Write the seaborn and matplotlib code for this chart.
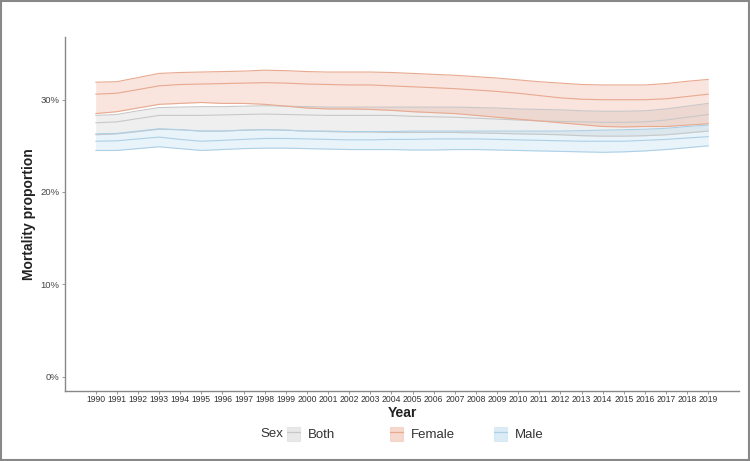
import numpy as np
import pandas as pd
import matplotlib
matplotlib.use("Agg")
import matplotlib.pyplot as plt
import seaborn as sns
from matplotlib.patches import Patch, Rectangle
from matplotlib.lines import Line2D
from matplotlib.legend_handler import HandlerTuple
from matplotlib.ticker import PercentFormatter

years = list(range(1990, 2020))
sexes = ["Both", "Female", "Male"]

female_upper = [31.9, 31.95, 32.4, 32.85, 32.95, 33.0, 33.05, 33.1, 33.2, 33.15, 33.05, 33.0, 33.0, 33.0, 32.95,
                32.85, 32.75, 32.65, 32.5, 32.35, 32.15, 31.95, 31.8, 31.65, 31.6, 31.6, 31.6, 31.75, 32.0, 32.2]
female_mid = [30.6, 30.7, 31.1, 31.5, 31.65, 31.7, 31.75, 31.8, 31.85, 31.8, 31.7, 31.65, 31.6, 31.6, 31.5,
              31.4, 31.3, 31.2, 31.05, 30.9, 30.7, 30.45, 30.2, 30.05, 30.0, 30.0, 30.0, 30.1, 30.35, 30.6]
female_lower = [28.5, 28.7, 29.1, 29.5, 29.6, 29.7, 29.6, 29.6, 29.5, 29.3, 29.1, 29.0, 29.0, 28.95, 28.85,
                28.7, 28.6, 28.5, 28.3, 28.1, 27.9, 27.7, 27.5, 27.3, 27.1, 27.05, 27.1, 27.1, 27.25, 27.4]
both_upper = [28.3, 28.4, 28.8, 29.15, 29.2, 29.25, 29.25, 29.3, 29.35, 29.3, 29.25, 29.2, 29.2, 29.2, 29.2,
              29.2, 29.2, 29.2, 29.15, 29.1, 29.0, 28.95, 28.9, 28.8, 28.75, 28.75, 28.8, 29.0, 29.3, 29.6]
both_mid = [27.5, 27.6, 27.95, 28.3, 28.3, 28.3, 28.35, 28.4, 28.45, 28.4, 28.35, 28.3, 28.3, 28.3, 28.3,
            28.2, 28.15, 28.1, 28.0, 27.9, 27.8, 27.7, 27.65, 27.6, 27.55, 27.55, 27.6, 27.8, 28.1, 28.4]
both_lower = [26.2, 26.3, 26.55, 26.8, 26.75, 26.6, 26.6, 26.7, 26.75, 26.7, 26.6, 26.55, 26.5, 26.5, 26.45,
              26.45, 26.45, 26.45, 26.4, 26.35, 26.3, 26.25, 26.2, 26.1, 26.05, 26.05, 26.1, 26.2, 26.4, 26.6]
male_upper = [26.3, 26.35, 26.6, 26.85, 26.75, 26.6, 26.6, 26.7, 26.75, 26.7, 26.6, 26.6, 26.55, 26.55, 26.55,
              26.6, 26.6, 26.6, 26.6, 26.6, 26.6, 26.6, 26.6, 26.65, 26.7, 26.75, 26.8, 26.9, 27.1, 27.25]
male_mid = [25.5, 25.55, 25.75, 25.95, 25.7, 25.5, 25.6, 25.7, 25.8, 25.8, 25.75, 25.7, 25.65, 25.65, 25.7,
            25.7, 25.75, 25.75, 25.75, 25.7, 25.65, 25.6, 25.55, 25.5, 25.5, 25.5, 25.6, 25.7, 25.85, 26.0]
male_lower = [24.5, 24.5, 24.7, 24.9, 24.7, 24.5, 24.6, 24.7, 24.75, 24.75, 24.7, 24.65, 24.6, 24.6, 24.6,
              24.55, 24.55, 24.6, 24.6, 24.55, 24.5, 24.45, 24.4, 24.35, 24.3, 24.35, 24.45, 24.6, 24.8, 25.0]

bands = {
    "Both": (both_lower, both_mid, both_upper),
    "Female": (female_lower, female_mid, female_upper),
    "Male": (male_lower, male_mid, male_upper),
}

rows = []
for sex, (lo, mid, hi) in bands.items():
    for yr, l, m, h in zip(years, lo, mid, hi):
        rows.append(dict(Year=yr, Sex=sex, lower=l / 100, val=m / 100, upper=h / 100))
df = pd.DataFrame(rows)
long = df.melt(id_vars=["Year", "Sex"], value_vars=["lower", "val", "upper"],
               var_name="stat", value_name="prop")

sns.set_theme(style="white")
plt.rcParams["font.family"] = ["Liberation Sans", "DejaVu Sans"]

fill_base = {"Both": "#bfbfbf", "Female": "#e8876a", "Male": "#8ec3e6"}
fill_alpha = {"Both": 0.24, "Female": 0.22, "Male": 0.2}
line_pal = {"Both": "#c8c8c8", "Female": "#e8a98f", "Male": "#add0e6"}

fig = plt.figure(figsize=(7.5, 4.61), dpi=100)
ax = fig.add_axes([0.0867, 0.1518, 0.8986, 0.768])

for sex in sexes:
    d = df[df["Sex"] == sex]
    ax.fill_between(d["Year"], d["lower"], d["upper"], color=fill_base[sex],
                    alpha=fill_alpha[sex], lw=0)

sns.lineplot(data=long, x="Year", y="prop", hue="Sex", units="stat", estimator=None,
             palette=line_pal, hue_order=sexes, lw=0.8, ax=ax, legend=False)

ax.set_xlim(1988.55, 2020.45)
ax.set_ylim(-0.0157, 0.368)
ax.set_xticks(years)
ax.set_xticklabels([str(y) for y in years], fontsize=6.2, color="#333333")
ax.set_yticks([0, 0.1, 0.2, 0.3])
ax.yaxis.set_major_formatter(PercentFormatter(1, decimals=0))
for t in ax.get_yticklabels():
    t.set_fontsize(6.8)
    t.set_color("#444444")
ax.tick_params(axis="x", which="major", length=2, width=0.6, color="#888888", pad=0.8, bottom=True)
ax.tick_params(axis="y", which="major", length=2.5, width=0.6, color="#888888", pad=1.5, left=True)

for s in ["top", "right"]:
    ax.spines[s].set_visible(False)
for s in ["left", "bottom"]:
    ax.spines[s].set_color("#888888")
    ax.spines[s].set_linewidth(1.0)

ax.set_xlabel("Year", fontsize=10, fontweight="bold", color="#222222")
ax.set_ylabel("Mortality proportion", fontsize=10, fontweight="bold", color="#222222")
ax.xaxis.set_label_coords(0.5, -0.043)
ax.yaxis.set_label_coords(-0.043, 0.5)

key_x = {"Both": 0.3827, "Female": 0.52, "Male": 0.6587}
leg_y = 0.0586
for sex in sexes:
    p = Patch(facecolor=fill_base[sex], alpha=fill_alpha[sex] + 0.1, edgecolor=line_pal[sex], lw=0.8)
    l = Line2D([0], [0], color=line_pal[sex], lw=0.9)
    lg = fig.legend([(p, l)], [sex], handler_map={tuple: HandlerTuple(ndivide=1, pad=0)},
                    loc="center left", bbox_to_anchor=(key_x[sex], leg_y), frameon=False,
                    fontsize=9.5, handlelength=1.0, handleheight=1.3, handletextpad=0.6,
                    borderpad=0, borderaxespad=0)
    for t in lg.get_texts():
        t.set_color("#333333")
fig.text(0.3627, leg_y, "Sex", fontsize=9.5, color="#333333", ha="center", va="center")

fig.patches.append(Rectangle((0.001, 0.002), 0.997, 0.995, transform=fig.transFigure,
                             fill=False, edgecolor="#888888", lw=1.5))

fig.savefig("out.png", dpi=100)
